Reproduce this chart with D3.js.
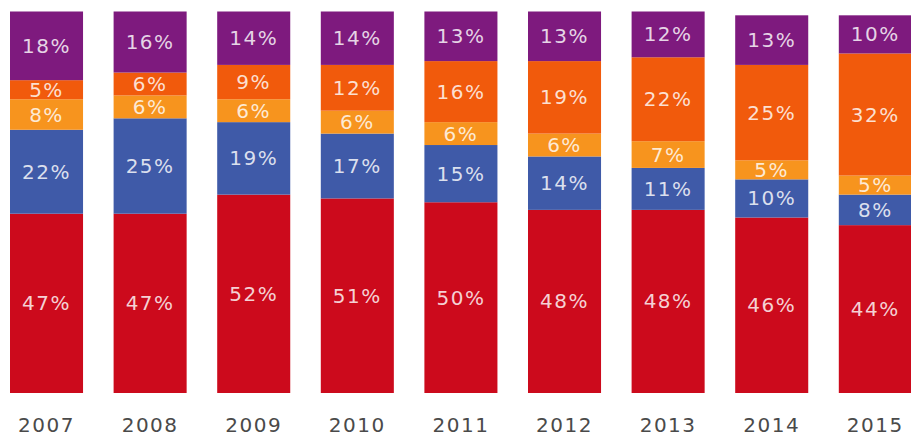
<!DOCTYPE html>
<html>
<head>
<meta charset="utf-8">
<script src="https://cdn.jsdelivr.net/npm/d3@7"></script>
<style>
  html, body { margin: 0; padding: 0; background: #fff; }
  svg { display: block; }
  .seg-label { font-family: "DejaVu Sans", Verdana, sans-serif; font-size: 20px; letter-spacing: 1.5px; }
  .year-axis text { font-family: "DejaVu Sans", Verdana, sans-serif; font-size: 20px; letter-spacing: 1.5px; fill: #4a4a4a; }
</style>
</head>
<body>
<svg id="chart" width="911" height="436"></svg>
<script>
// Years on the horizontal axis
const years = ["2007", "2008", "2009", "2010", "2011", "2012", "2013", "2014", "2015"];

// Share per year (%), stacked from bottom to top
const redShare         = [47, 47, 52, 51, 50, 48, 48, 46, 44];
const blueShare        = [22, 25, 19, 17, 15, 14, 11, 10, 8];
const lightOrangeShare = [8, 6, 6, 6, 6, 6, 7, 5, 5];
const orangeShare      = [5, 6, 9, 12, 16, 19, 22, 25, 32];
const purpleShare      = [18, 16, 14, 14, 13, 13, 12, 13, 10];

const seriesKeys = ["red", "blue", "lightOrange", "orange", "purple"];
const seriesColors = {
  red: "#cc0a1c",
  blue: "#3f5aa8",
  lightOrange: "#f7941e",
  orange: "#f15a0c",
  purple: "#7e1a7e"
};

const rows = years.map((y, i) => ({
  year: y,
  red: redShare[i],
  blue: blueShare[i],
  lightOrange: lightOrangeShare[i],
  orange: orangeShare[i],
  purple: purpleShare[i]
}));

const svg = d3.select("#chart");

const step = 103.6;
const x = d3.scaleBand()
  .domain(years)
  .range([10 - 0.1475 * step, 10 - 0.1475 * step + years.length * step])
  .paddingInner(0.295)
  .paddingOuter(0.1475);

const y = d3.scaleLinear().domain([0, 100]).range([393, 11.5]);

const stacked = d3.stack().keys(seriesKeys)(rows);

const layers = svg.selectAll("g.layer")
  .data(stacked)
  .join("g")
  .attr("class", "layer")
  .attr("fill", d => seriesColors[d.key]);

layers.selectAll("rect")
  .data(d => d)
  .join("rect")
  .attr("x", d => x(d.data.year))
  .attr("width", x.bandwidth())
  .attr("y", d => y(d[1]))
  .attr("height", d => y(d[0]) - y(d[1]));

// Percentage label centred in each segment
layers.selectAll("text")
  .data(d => d.map(v => ({ v, key: d.key })))
  .join("text")
  .attr("class", "seg-label")
  .attr("x", d => x(d.v.data.year) + x.bandwidth() / 2)
  .attr("y", d => (y(d.v[0]) + y(d.v[1])) / 2)
  .attr("text-anchor", "middle")
  .attr("dominant-baseline", "central")
  .attr("fill", "#ffffff")
  .attr("fill-opacity", 0.82)
  .text(d => (d.v[1] - d.v[0]) + "%");

// Year axis
const axis = svg.append("g")
  .attr("class", "year-axis")
  .attr("transform", "translate(0,393)")
  .call(d3.axisBottom(x).tickSize(0).tickPadding(25));
axis.select(".domain").remove();
axis.selectAll("text").attr("font-family", null).attr("font-size", null);
</script>
</body>
</html>
